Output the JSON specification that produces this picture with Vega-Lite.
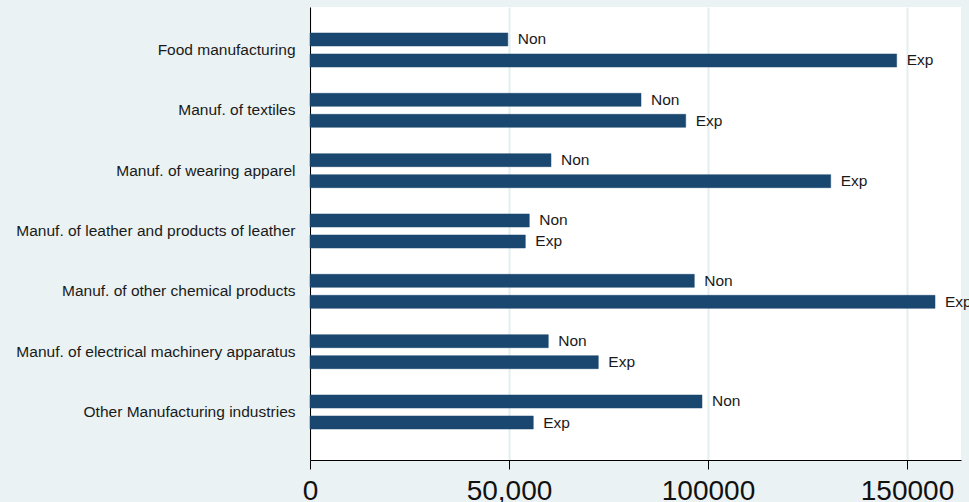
{
  "$schema": "https://vega.github.io/schema/vega-lite/v6.json",
  "width": 651,
  "height": 453,
  "autosize": {"type": "none"},
  "padding": {"left": 310, "top": 7, "right": 8, "bottom": 42},
  "background": "#EAF2F3",
  "config": {
    "view": {"fill": "white", "stroke": null},
    "font": "Liberation Sans"
  },
  "data": {
    "values": [
      {"industry": "Food manufacturing", "group": "Non", "value": 49700},
      {"industry": "Food manufacturing", "group": "Exp", "value": 147400},
      {"industry": "Manuf. of textiles", "group": "Non", "value": 83170},
      {"industry": "Manuf. of textiles", "group": "Exp", "value": 94400},
      {"industry": "Manuf. of wearing apparel", "group": "Non", "value": 60550},
      {"industry": "Manuf. of wearing apparel", "group": "Exp", "value": 130830},
      {"industry": "Manuf. of leather and products of leather", "group": "Non", "value": 55100},
      {"industry": "Manuf. of leather and products of leather", "group": "Exp", "value": 54100},
      {"industry": "Manuf. of other chemical products", "group": "Non", "value": 96560},
      {"industry": "Manuf. of other chemical products", "group": "Exp", "value": 157040},
      {"industry": "Manuf. of electrical machinery apparatus", "group": "Non", "value": 59870},
      {"industry": "Manuf. of electrical machinery apparatus", "group": "Exp", "value": 72440},
      {"industry": "Other Manufacturing industries", "group": "Non", "value": 98490},
      {"industry": "Other Manufacturing industries", "group": "Exp", "value": 56100}
    ]
  },
  "encoding": {
    "y": {
      "field": "industry",
      "type": "nominal",
      "sort": null,
      "title": null,
      "scale": {"paddingInner": 0.436, "paddingOuter": 0.472, "align": 0.456},
      "axis": {
        "domainColor": "black",
        "domainWidth": 1,
        "ticks": false,
        "grid": false,
        "labelFontSize": 15.5,
        "labelColor": "#1a1a1a",
        "labelPadding": 15,
        "labelLimit": 400
      }
    },
    "yOffset": {
      "field": "group",
      "type": "nominal",
      "sort": ["Non", "Exp"],
      "scale": {"paddingInner": 0.38, "paddingOuter": 0}
    },
    "x": {
      "field": "value",
      "type": "quantitative",
      "title": null,
      "scale": {"domain": [0, 163570], "nice": false, "zero": true},
      "axis": {
        "values": [0, 50000, 100000, 150000],
        "format": "d",
        "labelExpr": "datum.value == 50000 ? '50,000' : datum.label",
        "domainColor": "black",
        "tickColor": "black",
        "tickSize": 9,
        "grid": true,
        "gridColor": "#E4EEF0",
        "gridWidth": 2,
        "labelFontSize": 28,
        "labelColor": "#111111",
        "labelPadding": 8,
        "labelFlush": false
      }
    }
  },
  "layer": [
    {
      "mark": {"type": "bar", "color": "#1A476F", "stroke": "#1A476F", "strokeWidth": 0.5}
    },
    {
      "mark": {"type": "text", "align": "left", "baseline": "middle", "dx": 10, "fontSize": 15.5, "color": "#1a1a1a"},
      "encoding": {"text": {"field": "group"}}
    }
  ]
}
